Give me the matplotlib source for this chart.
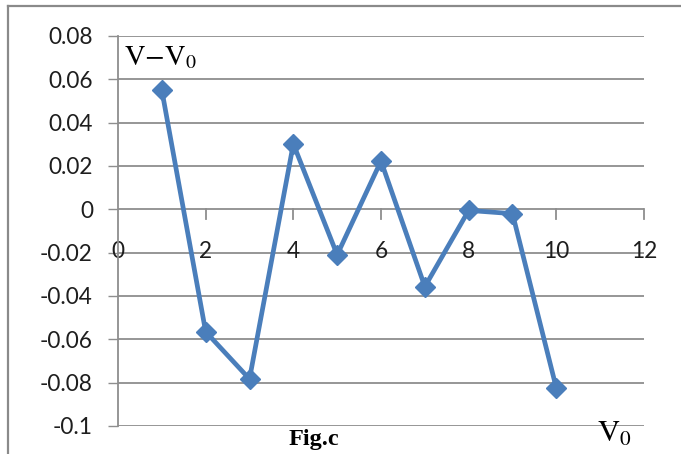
import matplotlib
matplotlib.use("Agg")
import matplotlib.pyplot as plt
from matplotlib.lines import Line2D

# Deviation of the measured value from the nominal value V0
v0 = [1, 2, 3, 4, 5, 6, 7, 8, 9, 10]
deviation = [0.055, -0.0565, -0.0783, 0.0302, -0.021, 0.0223, -0.0357, -0.0005, -0.002, -0.0825]

x_ticks = [0, 2, 4, 6, 8, 10, 12]
y_ticks = [-0.1, -0.08, -0.06, -0.04, -0.02, 0, 0.02, 0.04, 0.06, 0.08]
y_tick_labels = ["-0.1", "-0.08", "-0.06", "-0.04", "-0.02", "0", "0.02", "0.04", "0.06", "0.08"]
x_tick_labels = ["0", "2", "4", "6", "8", "10", "12"]

W, H = 681, 454
fig = plt.figure(figsize=(W / 100, H / 100), dpi=100)
fig.patch.set_facecolor("white")

left, right, top, bottom = 118, 644, 36, 426
ax = fig.add_axes([left / W, 1 - bottom / H, (right - left) / W, (bottom - top) / H])

grid_color = "#8e8e8e"
line_color = "#4a7ebb"
label_color = "#1e1e1e"
tick_size = 16.3

ax.set_xlim(0, 12)
ax.set_ylim(-0.1, 0.08)

# horizontal gridlines
for y in y_ticks:
    ax.axhline(y, color=grid_color, lw=1.3, zorder=1)

for s in ["top", "right", "bottom"]:
    ax.spines[s].set_visible(False)
ax.spines["left"].set_color(grid_color)
ax.spines["left"].set_linewidth(1.3)

ax.set_yticks(y_ticks)
ax.set_yticklabels(y_tick_labels)
ax.tick_params(axis="y", length=7, width=1.0, color=grid_color, pad=11,
               labelsize=tick_size, labelcolor=label_color)

# x axis crossing at zero
ax.set_xticks(x_ticks)
ax.set_xticklabels([])
ax.tick_params(axis="x", length=0)
for xt in x_ticks[1:]:
    ax.plot([xt, xt], [0, -0.0043], color=grid_color, lw=1.3, zorder=1, clip_on=False)
for xt, lab in zip(x_ticks, x_tick_labels):
    ax.text(xt, -0.0195, lab, ha="center", va="center", fontsize=tick_size,
            color=label_color, fontfamily="Lato", zorder=2)

for lab in ax.get_yticklabels():
    lab.set_fontfamily("Lato")

ax.plot(v0, deviation, color=line_color, lw=3.4, marker="D", markersize=10.5,
        markerfacecolor=line_color, markeredgecolor=line_color, zorder=3, clip_on=False)

plt.rcParams["mathtext.fontset"] = "stix"
fig.text(124 / W, 1 - 57 / H, r"$\mathrm{V{-}V_0}$", fontsize=20.5, ha="left", va="center",
         color="black")
fig.text(597 / W, 1 - 434 / H, r"$\mathrm{V_0}$", fontsize=22, ha="left", va="center",
         color="black")
fig.text(314 / W, 1 - 440 / H, "Fig.c", fontsize=17.5, fontweight="bold",
         fontfamily="Liberation Serif", ha="center", va="center", color="black")

# outer frame
fig.add_artist(Line2D([8 / W, 8 / W], [0, 1 - 6 / H], transform=fig.transFigure,
                      color="#8a8a8a", lw=1.6))
fig.add_artist(Line2D([8 / W, 1], [1 - 6 / H, 1 - 6 / H], transform=fig.transFigure,
                      color="#8a8a8a", lw=1.6))

fig.savefig("out.png", dpi=100)
